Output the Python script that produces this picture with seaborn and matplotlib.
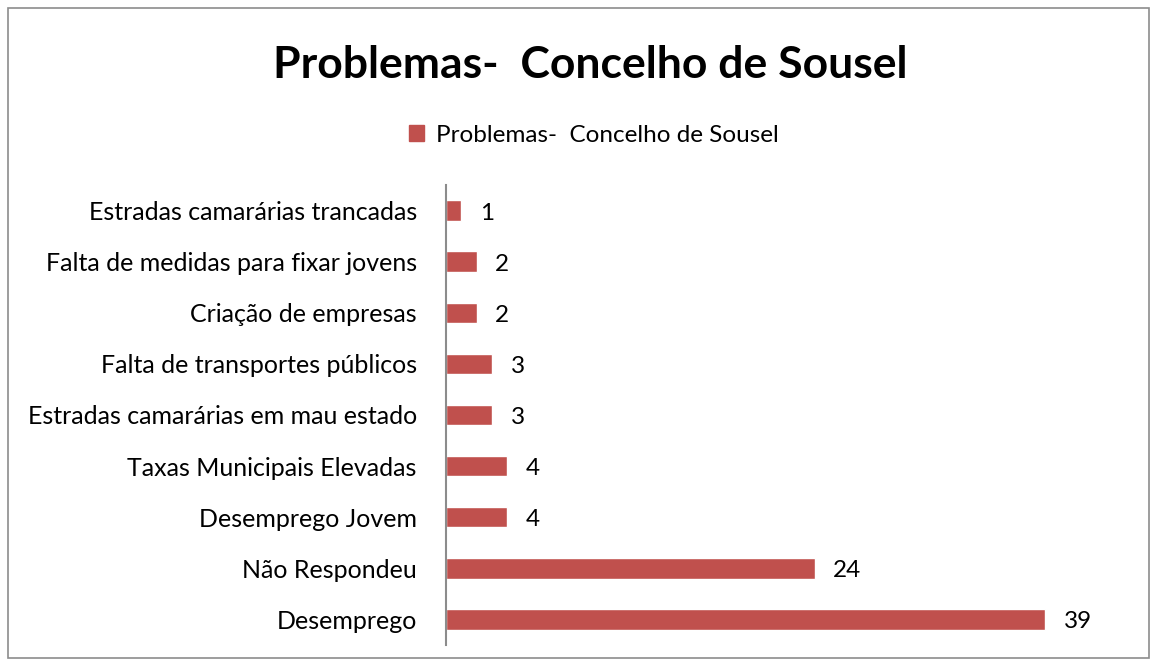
import pandas as pd
import matplotlib.pyplot as plt
import seaborn as sns
from matplotlib.patches import Patch, Rectangle

# --- dados ---
problemas = [
    "Estradas camarárias trancadas",
    "Falta de medidas para fixar jovens",
    "Criação de empresas",
    "Falta de transportes públicos",
    "Estradas camarárias em mau estado",
    "Taxas Municipais Elevadas",
    "Desemprego Jovem",
    "Não Respondeu",
    "Desemprego",
]
respostas = [1, 2, 2, 3, 3, 4, 4, 24, 39]
titulo = "Problemas-  Concelho de Sousel"

df = pd.DataFrame({"problema": problemas, "n": respostas})

sns.set_style("white")
plt.rcParams["font.family"] = ["Lato", "DejaVu Sans"]
plt.rcParams["text.color"] = "black"
plt.rcParams["ytick.color"] = "black"

cor = "#C0504D"
fig = plt.figure(figsize=(11.57, 6.66), dpi=100)
ax = fig.add_axes([446 / 1157, 1 - 645 / 666, 664 / 1157, 460 / 666])

sns.barplot(data=df, y="problema", x="n", orient="h", color=cor,
            saturation=1, width=0.4, ax=ax)

ax.set_xlim(0, 43.2)
ax.set_xlabel("")
ax.set_ylabel("")
ax.set_xticks([])
for lado in ["top", "right", "bottom"]:
    ax.spines[lado].set_visible(False)
ax.spines["left"].set_color("#8c8c8c")
ax.spines["left"].set_linewidth(1.5)
ax.tick_params(axis="y", length=0, pad=21, labelsize=18, labelcolor="black")

for i, v in enumerate(respostas):
    ax.text(v + 1.2, i + 0.05, str(v), va="center", ha="left", fontsize=17.5)

fig.text(590 / 1157, 1 - 65 / 666, titulo, ha="center", va="center",
         fontsize=32, fontweight="bold")
fig.legend(handles=[Patch(color=cor, label=titulo)], loc="center",
           bbox_to_anchor=(594 / 1157, 1 - 135 / 666), frameon=False, fontsize=17.5,
           handlelength=0.6, handleheight=0.6, handletextpad=0.5)

# moldura do gráfico
fig.patches.append(Rectangle((8 / 1157, 8 / 666), 1 - 16 / 1157, 1 - 16 / 666,
                             transform=fig.transFigure, fill=False,
                             edgecolor="#8c8c8c", linewidth=1.2))

fig.savefig("out.png", dpi=100)
